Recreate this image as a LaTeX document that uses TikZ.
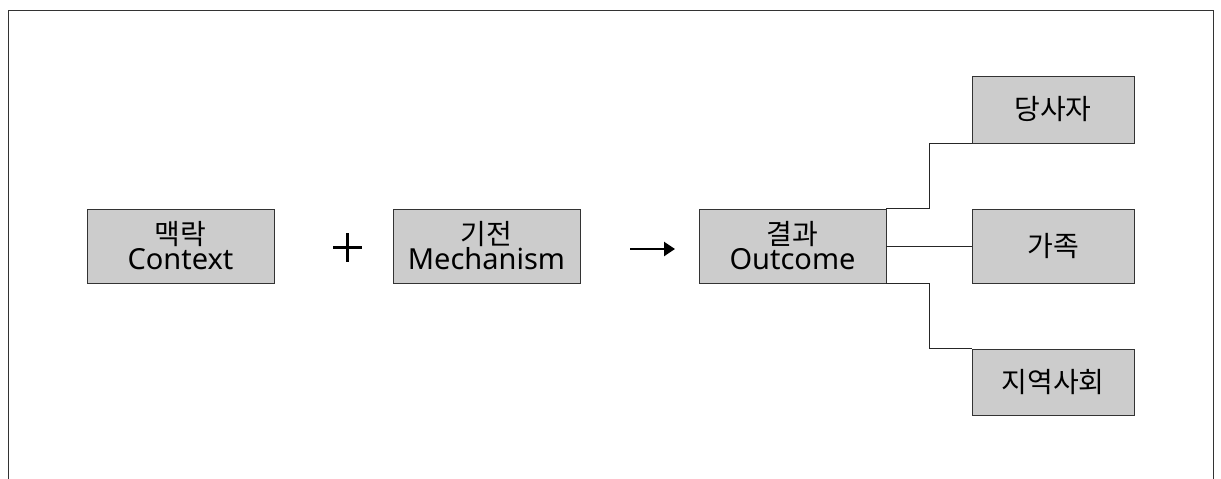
\documentclass[tikz,border=0pt]{standalone}
\usepackage{fontspec}
\setmainfont{Noto Sans}
\newfontfamily\kr{Noto Sans CJK KR}
\usetikzlibrary{arrows.meta,calc,shadows}
\tikzset{
  box/.style={draw=black!80, line width=0.9pt, fill=black!20, inner sep=0pt,
    general shadow={shadow xshift=1pt, shadow yshift=-1pt, fill=black!55},
    align=center, font=\fontsize{28}{25}\selectfont},
  wide/.style={box, minimum width=187pt, minimum height=74pt},
  side/.style={box, minimum width=162pt},
  link/.style={draw=black!85, line width=0.8pt},
}
\newcommand{\krl}[1]{{\kr\fontsize{28}{25}\selectfont #1}}
\newcommand{\enl}[1]{{\fontsize{29}{25}\selectfont #1}}
\begin{document}
\begin{tikzpicture}[x=1pt,y=-1pt]
\useasboundingbox (0,0) rectangle (1221,479);
% frame (open at the bottom)
\draw[draw=black!80, line width=1.3pt] (8.5,479) -- (8.5,10.5) -- (1213.5,10.5) -- (1213.5,479);
% main boxes
\node[wide] (ctx) at (180.5,246) {\krl{맥락}\\\enl{Context}};
\node[wide] (mec) at (486.5,246) {\krl{기전}\\\enl{Mechanism}};
\node[wide] (out) at (792.5,246) {\krl{결과}\\\enl{Outcome}};
% side boxes
\node[side, minimum height=67pt] (a) at (1053,109.5) {\krl{당사자}};
\node[side, minimum height=74pt] (b) at (1053,246) {\krl{가족}};
\node[side, minimum height=66pt] (c) at (1053,382) {\krl{지역사회}};
% plus sign
\coordinate (plus) at (347.5,247.5);
\draw[line width=3pt] ($(plus)+(-14.5,0)$) -- ($(plus)+(14.5,0)$);
\draw[line width=3pt] ($(plus)+(0,-14.5)$) -- ($(plus)+(0,14.5)$);
% arrow
\coordinate (arrS) at (630,249);
\coordinate (arrE) at (675,249);
\draw[line width=2.4pt, -{Triangle[length=11pt,width=14pt]}] (arrS) -- (arrE);
% connectors
\coordinate (j) at (929.5,0);
\draw[link] (out.north east) -- (out.north east -| j) |- (a.south west);
\draw[link] (out.east) -- (b.west);
\draw[link] (out.south east) -- (out.south east -| j) |- (c.north west);
\end{tikzpicture}
\end{document}
